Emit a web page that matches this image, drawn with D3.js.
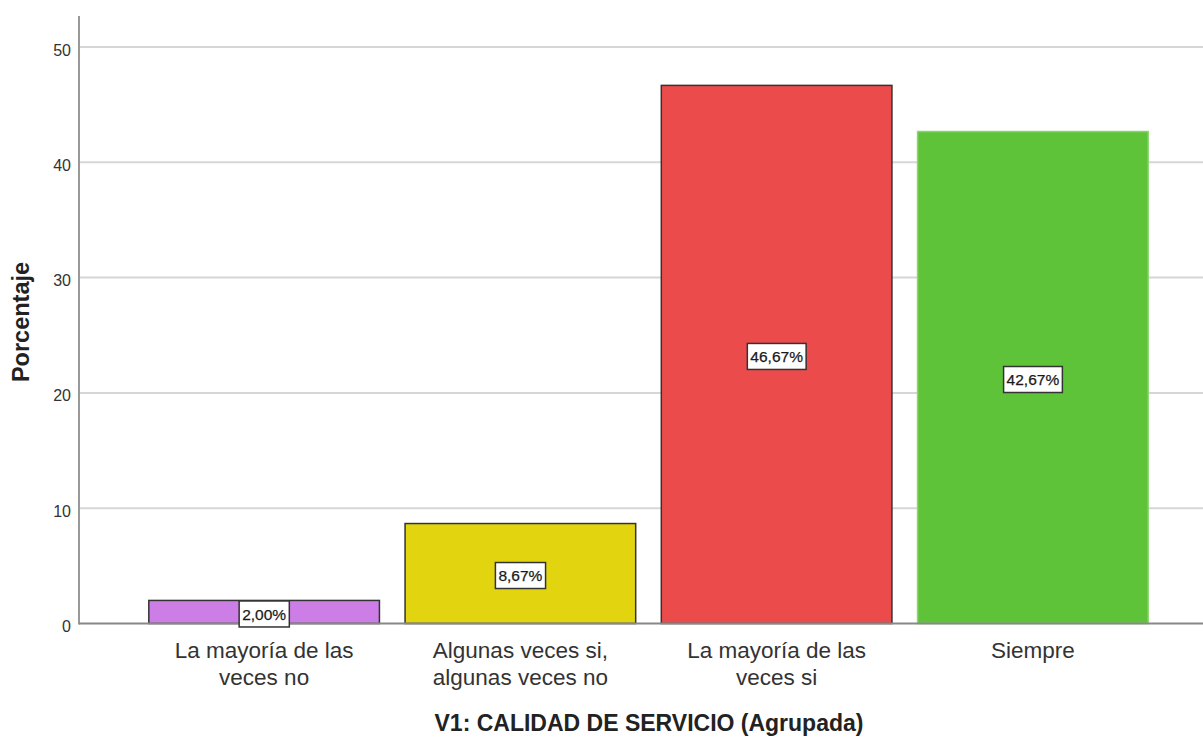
<!DOCTYPE html>
<html>
<head>
<meta charset="utf-8">
<script src="https://cdn.jsdelivr.net/npm/d3@7.9.0/dist/d3.min.js"></script>
<style>
  body { margin: 0; background: #fff; }
  svg text { font-family: "Liberation Sans", Arial, sans-serif; }
</style>
</head>
<body>
<svg id="chart" width="1203" height="738"></svg>
<script>
// Chart data
const categories = [
  ["La mayoría de las", "veces no"],
  ["Algunas veces si,", "algunas veces no"],
  ["La mayoría de las", "veces si"],
  ["Siempre"]
];
const percentages = [2.00, 8.67, 46.67, 42.67];
const barColors = ["#cd7ee6", "#e2d510", "#ec4b4b", "#5fc33a"];
const barStrokes = ["#333", "#333", "#333", "#8ad66c"];
const yTicks = [0, 10, 20, 30, 40, 50];

const svg = d3.select("#chart");
const plotLeft = 79, plotRight = 1203, plotTop = 16, plotBottom = 623.5;

// Scales
const x = d3.scaleBand()
  .domain(d3.range(categories.length))
  .range([136, 1161])
  .paddingInner(0.1)
  .paddingOuter(0.05);

const y = d3.scaleLinear().domain([0, 50]).range([plotBottom, 47]);

// Gridlines
svg.append("g")
  .selectAll("line")
  .data(yTicks.filter(d => d > 0))
  .join("line")
  .attr("x1", plotLeft).attr("x2", plotRight)
  .attr("y1", d => y(d)).attr("y2", d => y(d))
  .attr("stroke", "#d6d6d6")
  .attr("stroke-width", 2);

// Y axis
const yAxis = svg.append("g")
  .attr("transform", `translate(${plotLeft},0)`)
  .call(d3.axisLeft(y).tickValues(yTicks).tickSize(0).tickPadding(8));
yAxis.select(".domain").remove();
yAxis.selectAll("text")
  .attr("font-size", 16)
  .attr("dy", "0.5em")
  .attr("fill", "#333");

svg.append("line")
  .attr("x1", plotLeft).attr("x2", plotLeft)
  .attr("y1", plotTop).attr("y2", plotBottom + 1)
  .attr("stroke", "#999")
  .attr("stroke-width", 2);

// Bars
svg.append("g")
  .selectAll("rect")
  .data(percentages)
  .join("rect")
  .attr("x", (d, i) => x(i))
  .attr("y", d => y(d))
  .attr("width", x.bandwidth())
  .attr("height", d => plotBottom - y(d))
  .attr("fill", (d, i) => barColors[i])
  .attr("stroke", (d, i) => barStrokes[i])
  .attr("stroke-width", 1.5);

// Baseline
svg.append("line")
  .attr("x1", plotLeft).attr("x2", plotRight)
  .attr("y1", plotBottom).attr("y2", plotBottom)
  .attr("stroke", "#888")
  .attr("stroke-width", 2);

// Value labels
const fmt = v => v.toFixed(2).replace(".", ",") + "%";
const labels = svg.append("g")
  .selectAll("g")
  .data(percentages)
  .join("g")
  .attr("transform", (d, i) =>
    `translate(${x(i) + x.bandwidth() / 2},${y(d / 2) + 2})`);

labels.append("text")
  .attr("text-anchor", "middle")
  .attr("dy", "0.36em")
  .attr("font-size", 15.5)
  .attr("fill", "#1a1a1a")
  .attr("stroke", "#1a1a1a")
  .attr("stroke-width", 0.25)
  .text(fmt)
  .each(function () {
    const b = this.getBBox();
    d3.select(this.parentNode).insert("rect", "text")
      .attr("x", b.x - 3)
      .attr("y", -13)
      .attr("width", b.width + 6)
      .attr("height", 26)
      .attr("fill", "#fff")
      .attr("stroke", "#333")
      .attr("stroke-width", 1.5);
  });

// Category labels, one text per line
const catLines = categories.flatMap((lines, i) =>
  lines.map((t, j) => ({ i, j, t })));

svg.append("g")
  .selectAll("text")
  .data(catLines)
  .join("text")
  .attr("x", d => x(d.i) + x.bandwidth() / 2)
  .attr("y", d => 658 + d.j * 26.5)
  .attr("text-anchor", "middle")
  .attr("font-size", 22.5)
  .attr("fill", "#333")
  .text(d => d.t);

// Axis titles
svg.append("text")
  .attr("x", 649)
  .attr("y", 731)
  .attr("text-anchor", "middle")
  .attr("font-size", 23)
  .attr("font-weight", "bold")
  .attr("fill", "#222")
  .text("V1: CALIDAD DE SERVICIO (Agrupada)");

svg.append("text")
  .attr("transform", "translate(29,322) rotate(-90)")
  .attr("text-anchor", "middle")
  .attr("font-size", 23.5)
  .attr("font-weight", "bold")
  .attr("fill", "#222")
  .text("Porcentaje");
</script>
</body>
</html>
